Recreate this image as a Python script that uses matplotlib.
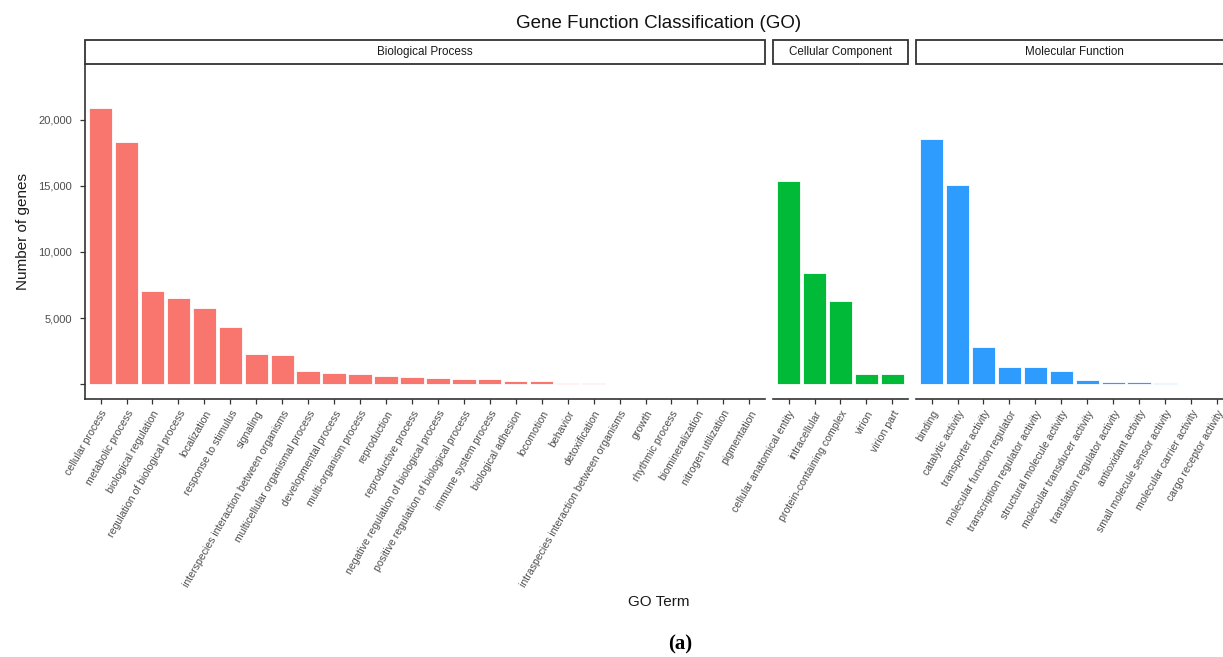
import matplotlib
matplotlib.use("Agg")
import matplotlib.pyplot as plt
from matplotlib.patches import Rectangle
from matplotlib.ticker import FixedLocator, FixedFormatter

plt.rcParams['font.family'] = ['Liberation Sans', 'DejaVu Sans']

# ---- data -------------------------------------------------------------
bp_terms = [
    "cellular process", "metabolic process", "biological regulation",
    "regulation of biological process", "localization", "response to stimulus",
    "signaling", "interspecies interaction between organisms",
    "multicellular organismal process", "developmental process",
    "multi-organism process", "reproduction", "reproductive process",
    "negative regulation of biological process",
    "positive regulation of biological process", "immune system process",
    "biological adhesion", "locomotion", "behavior", "detoxification",
    "intraspecies interaction between organisms", "growth", "rhythmic process",
    "biomineralization", "nitrogen utilization", "pigmentation",
]
bp_counts = [20850, 18340, 7020, 6490, 5770, 4300, 2270, 2250, 1040, 865,
             760, 610, 570, 490, 420, 365, 265, 245, 80, 75, 60, 45, 40, 8, 5, 3]

cc_terms = ["cellular anatomical entity", "intracellular",
            "protein-containing complex", "virion", "virion part"]
cc_counts = [15380, 8390, 6270, 770, 770]

mf_terms = [
    "binding", "catalytic activity", "transporter activity",
    "molecular function regulator", "transcription regulator activity",
    "structural molecule activity", "molecular transducer activity",
    "translation regulator activity", "antioxidant activity",
    "small molecule sensor activity", "molecular carrier activity",
    "cargo receptor activity",
]
mf_counts = [18530, 15050, 2800, 1340, 1290, 1040, 300, 200, 175, 125, 30, 25]

panel_names = ["Biological Process", "Cellular Component", "Molecular Function"]
panel_colors = ["#F8766D", "#00BA38", "#2E9BFF"]

y_ticks = [0, 5000, 10000, 15000, 20000]
y_tick_labels = ["", "5,000", "10,000", "15,000", "20,000"]

# ---- layout -----------------------------------------------------------
W, H = 1223, 657
fig = plt.figure(figsize=(W / 100, H / 100), dpi=100)

unit = 25.95             # pixels per category
panel_left = [85, 773, 916]
top_px, bottom_px = 64, 399
strip_h = 23.7

axis_col = "#333333"
tick_col = "#4D4D4D"

panels = [(bp_terms, bp_counts), (cc_terms, cc_counts), (mf_terms, mf_counts)]

for i, ((terms, counts), name, color, lpx) in enumerate(
        zip(panels, panel_names, panel_colors, panel_left)):
    n = len(terms)
    wpx = (n + 0.2) * unit
    ax = fig.add_axes([lpx / W, 1 - bottom_px / H, wpx / W,
                       (bottom_px - top_px) / H])
    x = list(range(n))
    ax.bar(x, counts, width=0.9, color=color, edgecolor="white", linewidth=0.6)
    ax.set_xlim(-0.6, n - 0.4)
    ax.set_ylim(-1110, 24200)

    ax.set_xticks(x)
    ax.set_xticklabels(terms, rotation=60, ha="right", va="top",
                       rotation_mode="anchor", fontsize=7.6, color=tick_col)
    for s in ["top", "right"]:
        ax.spines[s].set_visible(False)
    ax.spines["bottom"].set_color(axis_col)
    ax.spines["bottom"].set_linewidth(1.2)
    ax.tick_params(axis="x", length=3.5, width=0.9, color=axis_col, pad=3.5)

    if i == 0:
        ax.spines["left"].set_color(axis_col)
        ax.spines["left"].set_linewidth(1.2)
        ax.yaxis.set_major_locator(FixedLocator(y_ticks))
        ax.yaxis.set_major_formatter(FixedFormatter(y_tick_labels))
        ax.tick_params(axis="y", length=3.5, width=0.9, color=axis_col,
                       labelsize=8, labelcolor=tick_col, pad=6)
        ax.set_ylabel("Number of genes", fontsize=11, color="#1A1A1A",
                      labelpad=6)
    else:
        ax.spines["left"].set_visible(False)
        ax.set_yticks([])

    # facet strip
    hs = strip_h / (bottom_px - top_px)
    ax.add_patch(Rectangle((0, 1), 1, hs, transform=ax.transAxes,
                           facecolor="white", edgecolor=axis_col,
                           linewidth=1.3, clip_on=False))
    ax.text(0.5, 1 + hs / 2, name, transform=ax.transAxes, ha="center",
            va="center", fontsize=8.4, color="#1A1A1A")

centre_x = (85 + 916 + 12.2 * unit) / 2 / W
fig.text(centre_x, 1 - 23 / H, "Gene Function Classification (GO)",
         ha="center", va="center", fontsize=13.5, color="#111111")
fig.text(centre_x, 1 - 602 / H, "GO Term", ha="center", va="center",
         fontsize=11, color="#1A1A1A")
fig.text(680 / W, 1 - 644 / H, "(a)", ha="center", va="center",
         fontsize=15, fontweight="bold", family=["Liberation Serif", "DejaVu Serif"])

fig.savefig("out.png", dpi=100, facecolor="white")
